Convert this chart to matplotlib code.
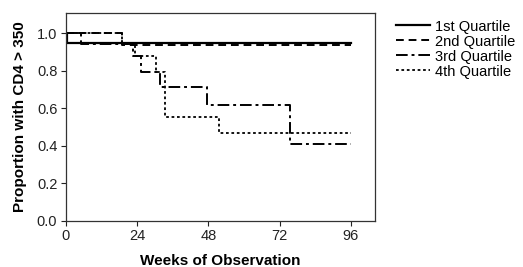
import matplotlib
matplotlib.use("Agg")
import matplotlib.pyplot as plt

plt.rcParams['font.family'] = ['Liberation Sans', 'DejaVu Sans']

labels = ["1st Quartile", "2nd Quartile", "3rd Quartile", "4th Quartile"]

# step data: times at which value changes, and values after the change
q1_t = [0, 0.4, 96]
q1_v = [1.0, 0.945, 0.945]
q2_t = [0, 19, 96]
q2_v = [1.0, 0.935, 0.935]
q3_t = [0, 5, 22.5, 25.5, 31.7, 47.5, 75.5, 96]
q3_v = [1.0, 0.94, 0.877, 0.794, 0.713, 0.615, 0.41, 0.41]
q4_t = [0, 19, 23.2, 30.5, 33.5, 51.7, 96]
q4_v = [1.0, 0.94, 0.877, 0.794, 0.55, 0.465, 0.465]

xticks = [0, 24, 48, 72, 96]
yticks = [0.0, 0.2, 0.4, 0.6, 0.8, 1.0]

fig = plt.figure(figsize=(5.23, 2.67), dpi=100)
ax = fig.add_axes([65.7/523, 1-220.5/267, (375-65.7)/523, (220.5-13)/267])

styles = [
    dict(linestyle='-', linewidth=1.6),
    dict(linestyle=(0, (4, 2.5)), linewidth=1.4),
    dict(linestyle=(0, (6, 2, 1.5, 2)), linewidth=1.4),
    dict(linestyle=(0, (1.5, 1.5)), linewidth=1.3),
]
series = [(q1_t, q1_v), (q2_t, q2_v), (q3_t, q3_v), (q4_t, q4_v)]
handles = []
for (t, v), st, lab in zip(series, styles, labels):
    h, = ax.step(t, v, where='post', color='black', label=lab, **st)
    handles.append(h)

ax.set_xlim(0, 104.1)
ax.set_ylim(0, 1.107)
ax.set_xticks(xticks)
ax.set_yticks(yticks)
ax.set_yticklabels([f"{y:.1f}" for y in yticks])
ax.tick_params(direction='out', length=3.5, width=0.8, labelsize=10.5, colors='#222222', pad=2.5)
for s in ax.spines.values():
    s.set_linewidth(0.9)
    s.set_color('#333333')

ax.set_xlabel("Weeks of Observation", fontsize=11, fontweight='bold', labelpad=8)
ax.set_ylabel("Proportion with CD4 > 350", fontsize=11, fontweight='bold', labelpad=7)

fig.legend(handles=handles, labels=labels, loc='upper left',
           bbox_to_anchor=(396/523, 1-19.5/267), frameon=False, fontsize=10.5,
           handlelength=2.3, handletextpad=0.35, labelspacing=0.07, borderpad=0,
           borderaxespad=0)

fig.savefig("out.png", dpi=100)
